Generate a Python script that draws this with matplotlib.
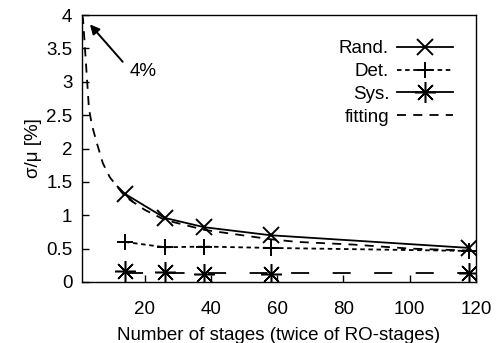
import numpy as np
import matplotlib
matplotlib.use('Agg')
import matplotlib.pyplot as plt

plt.rcParams['font.family'] = ['Liberation Sans', 'DejaVu Sans']

# stages (twice of RO-stages)
stages = [14, 26, 38, 58, 118]
rand = [1.32, 0.96, 0.82, 0.70, 0.51]
det = [0.60, 0.52, 0.53, 0.51, 0.465]
sys_ = [0.16, 0.15, 0.125, 0.125, 0.14]

# fitting curves
fit_x = [1, 1.3, 1.9, 2.5, 3.1, 4, 5.5, 7.3, 9.4, 14, 20, 26, 38, 58, 66, 83, 100, 118]
fit_y = [4.0, 3.95, 3.5, 3.05, 2.6, 2.35, 2.08, 1.78, 1.57, 1.28, 1.08, 0.93, 0.78,
         0.64, 0.60, 0.56, 0.50, 0.47]
sysfit_x = [14, 118]
sysfit_y = [0.13, 0.13]

fig = plt.figure(figsize=(5.03, 3.43), dpi=100)
ax = fig.add_axes([0.163, 0.178, 0.783, 0.778])

ax.plot(stages, rand, color='black', lw=1.3, marker='x', ms=11, mew=1.4, label='Rand.')
ax.plot(stages, det, color='black', lw=1.3, ls=(0, (2.5, 2)), marker='+', ms=12, mew=1.4,
        label='Det.')
ax.plot(stages, sys_, color='black', lw=0, marker=(8, 2, 0), ms=15, mew=1.1)
# legend handle for Sys.
ax.plot([], [], color='black', lw=1.3, marker=(8, 2, 0), ms=15, mew=1.1, label='Sys.')
ax.plot(fit_x, fit_y, color='black', lw=1.3, ls=(0, (5, 4)), label='fitting')
ax.plot(sysfit_x, sysfit_y, color='black', lw=1.3, ls=(0, (10, 13)))

ax.annotate('', xy=(3.4, 3.86), xytext=(13.3, 3.3),
            arrowprops=dict(arrowstyle='-|>', color='black', lw=1.4,
                            mutation_scale=14, shrinkA=0, shrinkB=0))
ax.text(15.3, 3.15, '4%', fontsize=13.5, ha='left', va='center')

ax.set_xlim(1, 120)
ax.set_ylim(0, 4)
ax.set_xticks([20, 40, 60, 80, 100, 120])
ax.set_yticks([0, 0.5, 1, 1.5, 2, 2.5, 3, 3.5, 4])
ax.set_yticklabels(['0', '0.5', '1', '1.5', '2', '2.5', '3', '3.5', '4'])
ax.tick_params(direction='in', length=5, width=1, labelsize=13.5, pad=7,
               top=False, right=False)
ax.tick_params(axis='x', pad=14)
for s in ax.spines.values():
    s.set_linewidth(1.0)

ax.set_xlabel('Number of stages (twice of RO-stages)', fontsize=13.5, labelpad=6)
ax.set_ylabel('σ/μ [%]', fontsize=13.5, labelpad=3)

leg = ax.legend(loc='upper right', bbox_to_anchor=(0.975, 0.955), frameon=False,
                markerfirst=False, fontsize=13.5, handlelength=3.0, handletextpad=0.4,
                labelspacing=0.3, borderpad=0.2)

fig.savefig('out.png', dpi=100)
